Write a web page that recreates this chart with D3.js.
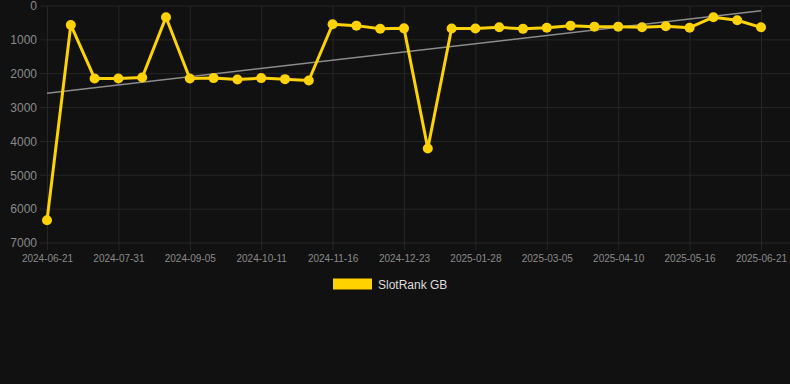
<!DOCTYPE html>
<html>
<head>
<meta charset="utf-8">
<script src="https://cdn.jsdelivr.net/npm/d3@7"></script>
<style>
  html, body { margin: 0; padding: 0; background: #111111; }
  svg { display: block; font-family: "Liberation Sans", Arial, sans-serif; }
</style>
</head>
<body>
<div id="chart"></div>
<script>
// dates of each observation (x axis is categorical, one slot per date)
var dates = [
    "2024-06-21", "2024-07-04", "2024-07-18", "2024-07-31", "2024-08-12",
    "2024-08-24", "2024-09-05", "2024-09-17", "2024-09-29", "2024-10-11",
    "2024-10-23", "2024-11-04", "2024-11-16", "2024-11-28", "2024-12-11",
    "2024-12-23", "2025-01-04", "2025-01-16", "2025-01-28", "2025-02-09",
    "2025-02-21", "2025-03-05", "2025-03-17", "2025-03-29", "2025-04-10",
    "2025-04-22", "2025-05-04", "2025-05-16", "2025-05-28", "2025-06-09",
    "2025-06-21"
];

// SlotRank GB rank values
var ranks = [
    6330, 560, 2140, 2140, 2110, 330, 2140, 2130, 2170, 2130,
    2160, 2200, 540, 580, 670, 660, 4210, 665, 665, 630,
    675, 645, 580, 610, 610, 630, 600, 640, 330, 420,
    630
];

// trend line values at first and last date
var trend = [2575, 140];

var yTicks = [0, 1000, 2000, 3000, 4000, 5000, 6000, 7000];
var seriesName = "SlotRank GB";

var width = 790, height = 384;
var plotLeft = 40, plotRight = 790, plotTop = 6, plotBottom = 243;

var svg = d3.select("#chart")
    .append("svg")
    .attr("width", width)
    .attr("height", height);

// scales
var x = d3.scalePoint().domain(dates).range([47, 761]);
var y = d3.scaleLinear().domain([0, 7000]).range([plotTop, plotBottom]);

// horizontal grid lines
svg.append("g")
    .selectAll("line")
    .data(yTicks)
    .enter()
    .append("line")
    .attr("x1", plotLeft)
    .attr("x2", plotRight)
    .attr("y1", function (d) { return y(d); })
    .attr("y2", function (d) { return y(d); })
    .attr("stroke", "#262626")
    .attr("stroke-width", 1);

// x axis: show every third date
var xTickDates = dates.filter(function (d, i) { return i % 3 == 0; });
var xAxis = svg.append("g")
    .attr("transform", "translate(0," + plotBottom + ")")
    .call(d3.axisBottom(x).tickValues(xTickDates).tickSize(-(plotBottom - plotTop)).tickSizeOuter(0).tickPadding(12));
xAxis.select(".domain").remove();
xAxis.selectAll(".tick line")
    .attr("stroke", "#262626")
    .attr("y1", 7);
xAxis.selectAll(".tick text")
    .attr("fill", "#8a8a8a")
    .style("font-size", "10px");

// y axis labels
var yAxis = svg.append("g")
    .attr("transform", "translate(" + plotLeft + ",0)")
    .call(d3.axisLeft(y).tickValues(yTicks).tickSize(0).tickPadding(3).tickFormat(d3.format("d")));
yAxis.select(".domain").remove();
yAxis.selectAll(".tick text")
    .attr("fill", "#8a8a8a")
    .style("font-size", "12px");

// trend line
svg.append("line")
    .attr("x1", x(dates[0]))
    .attr("x2", x(dates[dates.length - 1]))
    .attr("y1", y(trend[0]))
    .attr("y2", y(trend[1]))
    .attr("stroke", "#8c8c8c")
    .attr("stroke-width", 1.5);

// data line
var lineData = dates.map(function (d, i) { return { date: d, rank: ranks[i] }; });
var line = d3.line()
    .x(function (d) { return x(d.date); })
    .y(function (d) { return y(d.rank); });

svg.append("path")
    .datum(lineData)
    .attr("fill", "none")
    .attr("stroke", "#ffd200")
    .attr("stroke-width", 3)
    .attr("stroke-linejoin", "round")
    .attr("d", line);

svg.append("g")
    .selectAll("circle")
    .data(lineData)
    .enter()
    .append("circle")
    .attr("cx", function (d) { return x(d.date); })
    .attr("cy", function (d) { return y(d.rank); })
    .attr("r", 5)
    .attr("fill", "#ffd200");

// legend
svg.append("rect")
    .attr("x", 333)
    .attr("y", 278.5)
    .attr("width", 39)
    .attr("height", 11)
    .attr("fill", "#ffd200");
svg.append("text")
    .attr("x", 378)
    .attr("y", 288.5)
    .attr("fill", "#dddddd")
    .style("font-size", "12px")
    .text(seriesName);
</script>
</body>
</html>
